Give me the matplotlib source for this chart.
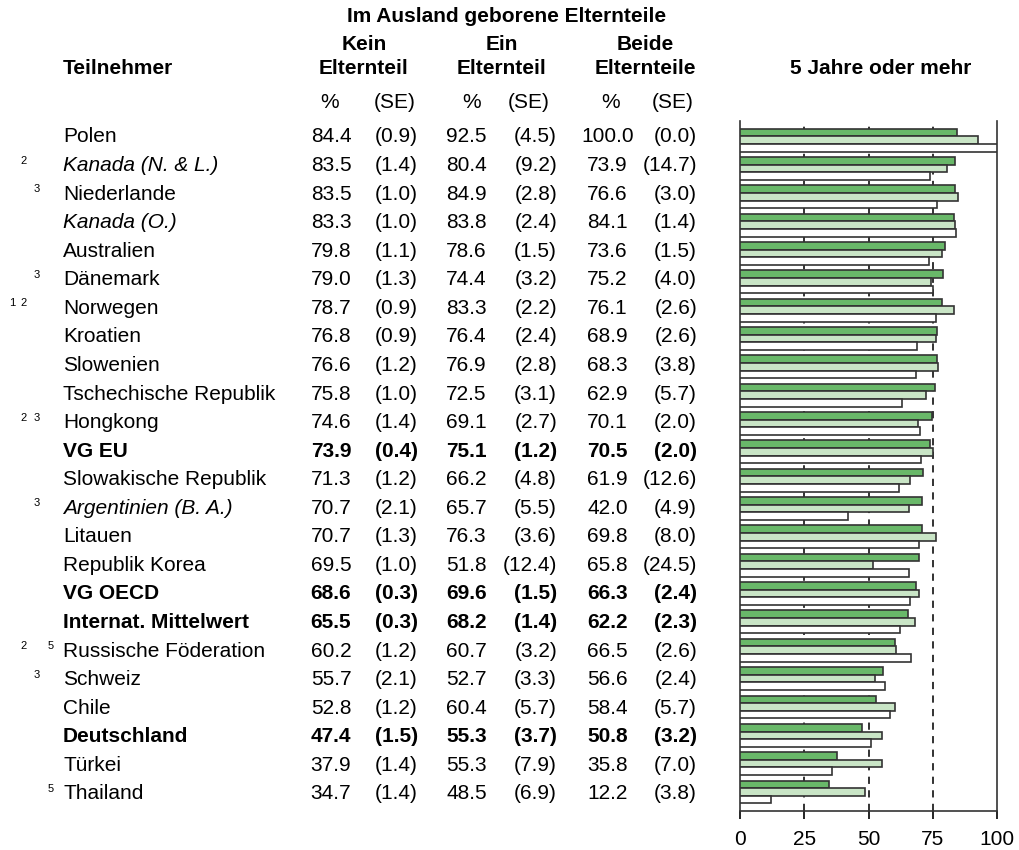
import matplotlib
matplotlib.use("Agg")
import matplotlib.pyplot as plt
import numpy as np

plt.rcParams["font.family"] = ["Liberation Sans", "DejaVu Sans"]

countries = ["Polen", "Kanada (N. & L.)", "Niederlande", "Kanada (O.)", "Australien",
             "Dänemark", "Norwegen", "Kroatien", "Slowenien", "Tschechische Republik",
             "Hongkong", "VG EU", "Slowakische Republik", "Argentinien (B. A.)", "Litauen",
             "Republik Korea", "VG OECD", "Internat. Mittelwert", "Russische Föderation",
             "Schweiz", "Chile", "Deutschland", "Türkei", "Thailand"]
footnotes = ["", "2", "3", "", "", "3", "1 2", "", "", "", "2 3", "", "", "3", "",
             "", "", "", "2 5", "3", "", "", "", "5"]
styles = ["n", "i", "n", "i", "n", "n", "n", "n", "n", "n", "n", "b", "n", "i", "n",
          "n", "b", "b", "n", "n", "n", "b", "n", "n"]

kein = [84.4, 83.5, 83.5, 83.3, 79.8, 79.0, 78.7, 76.8, 76.6, 75.8, 74.6, 73.9, 71.3,
        70.7, 70.7, 69.5, 68.6, 65.5, 60.2, 55.7, 52.8, 47.4, 37.9, 34.7]
kein_se = [0.9, 1.4, 1.0, 1.0, 1.1, 1.3, 0.9, 0.9, 1.2, 1.0, 1.4, 0.4, 1.2, 2.1, 1.3,
           1.0, 0.3, 0.3, 1.2, 2.1, 1.2, 1.5, 1.4, 1.4]
ein = [92.5, 80.4, 84.9, 83.8, 78.6, 74.4, 83.3, 76.4, 76.9, 72.5, 69.1, 75.1, 66.2,
       65.7, 76.3, 51.8, 69.6, 68.2, 60.7, 52.7, 60.4, 55.3, 55.3, 48.5]
ein_se = [4.5, 9.2, 2.8, 2.4, 1.5, 3.2, 2.2, 2.4, 2.8, 3.1, 2.7, 1.2, 4.8, 5.5, 3.6,
          12.4, 1.5, 1.4, 3.2, 3.3, 5.7, 3.7, 7.9, 6.9]
beide = [100.0, 73.9, 76.6, 84.1, 73.6, 75.2, 76.1, 68.9, 68.3, 62.9, 70.1, 70.5, 61.9,
         42.0, 69.8, 65.8, 66.3, 62.2, 66.5, 56.6, 58.4, 50.8, 35.8, 12.2]
beide_se = [0.0, 14.7, 3.0, 1.4, 1.5, 4.0, 2.6, 2.6, 3.8, 5.7, 2.0, 2.0, 12.6, 4.9, 8.0,
            24.5, 2.4, 2.3, 2.6, 2.4, 5.7, 3.2, 7.0, 3.8]

W, H = 1019, 850
fig = plt.figure(figsize=(W / 100, H / 100), dpi=100)
fs = 15


def ftxt(x, y, s, **kw):
    fig.text(x / W, 1 - y / H, s, **kw)


# bar panel
ax = fig.add_axes([740 / W, 1 - 811 / H, 257 / W, (811 - 121.5) / H])
n = len(countries)
pos = np.arange(n)
h = 0.27
edge = "#333333"
ax.barh(pos - h, kein, height=h, color="#69b869", edgecolor=edge, linewidth=1.2, zorder=3)
ax.barh(pos, ein, height=h, color="#c9e5c6", edgecolor=edge, linewidth=1.2, zorder=3)
ax.barh(pos + h, beide, height=h, color="white", edgecolor=edge, linewidth=1.2, zorder=3)
for gx in [25, 50, 75]:
    ax.axvline(gx, color="#222222", linewidth=1.3, linestyle=(0, (4, 3.5)), zorder=1)
ax.set_xlim(0, 100)
ax.set_ylim(23.67, -0.66)
ax.set_yticks([])
ax.set_xticks([0, 25, 50, 75, 100])
ax.tick_params(axis="x", direction="out", length=6, width=1.2, labelsize=fs, pad=8)
ax.spines["top"].set_visible(False)
for sp in ["left", "right", "bottom"]:
    ax.spines[sp].set_linewidth(1.2)
    ax.spines[sp].set_color("#333333")

# header
ftxt(507, 16, "Im Ausland geborene Elternteile", ha="center", va="center", fontsize=fs, fontweight="bold")
for cx, l1, l2 in [(364, "Kein", "Elternteil"), (502, "Ein", "Elternteil"), (645, "Beide", "Elternteile")]:
    ftxt(cx, 45, l1, ha="center", va="center", fontsize=fs, fontweight="bold")
    ftxt(cx, 69, l2, ha="center", va="center", fontsize=fs, fontweight="bold")
ftxt(63, 69, "Teilnehmer", ha="left", va="center", fontsize=fs, fontweight="bold")
ftxt(881, 69, "5 Jahre oder mehr", ha="center", va="center", fontsize=fs, fontweight="bold")
for cx, s in [(330, "%"), (395, "(SE)"), (472, "%"), (529, "(SE)"), (611, "%"), (673, "(SE)")]:
    ftxt(cx, 102, s, ha="center", va="center", fontsize=fs)

# table rows
fn_x = {"1": 12, "2": 24, "3": 37, "5": 51}
for i in range(n):
    y = 137 + i * 28.56
    weight = "bold" if styles[i] == "b" else "normal"
    style = "italic" if styles[i] == "i" else "normal"
    ftxt(63, y, countries[i], ha="left", va="center", fontsize=fs, fontweight=weight, fontstyle=style)
    for f in footnotes[i].split():
        ftxt(fn_x[f], y - 5, f, ha="center", va="center", fontsize=8)
    cols = [(331, f"{kein[i]:.1f}", "center"), (418, f"({kein_se[i]:.1f})", "right"),
            (466.5, f"{ein[i]:.1f}", "center"), (557, f"({ein_se[i]:.1f})", "right"),
            (607.5, f"{beide[i]:.1f}", "center"), (697, f"({beide_se[i]:.1f})", "right")]
    for cx, s, al in cols:
        ftxt(cx, y, s, ha=al, va="center", fontsize=fs, fontweight=weight)

fig.savefig("out.png", dpi=100)
